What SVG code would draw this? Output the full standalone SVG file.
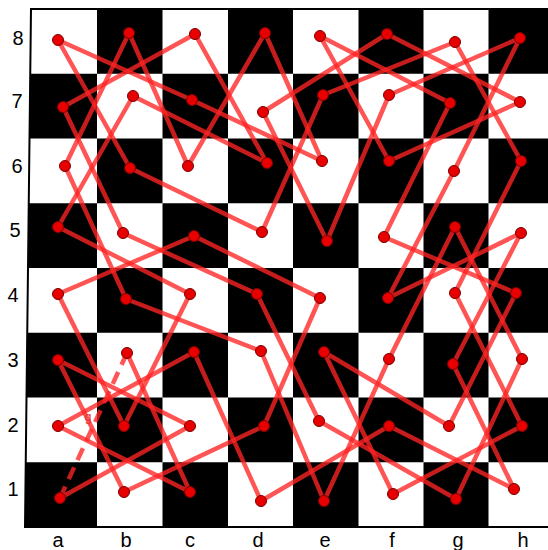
<svg xmlns="http://www.w3.org/2000/svg" width="548" height="550" viewBox="0 0 548 550">
<style>
.blk{fill:#000}
.lbl{font-family:"Liberation Sans",Arial,sans-serif;font-size:20px;fill:#000;text-anchor:middle}
.tour line{stroke:#ff2424;stroke-opacity:0.78;stroke-width:4.5;stroke-linecap:round}
.tour line.close{stroke-dasharray:13 8;stroke-linecap:butt}
.dot{fill:#e80000;stroke:#7a0000;stroke-width:1}
</style>
<rect width="548" height="550" fill="#fff"/>
<g id="board">
<polygon points="31,9 553,9 553,527 25,527" fill="#fff" stroke="#000" stroke-width="2"/>
<rect class="blk" x="97" y="9" width="65.5" height="64.75"/>
<rect class="blk" x="228" y="9" width="65" height="64.75"/>
<rect class="blk" x="358.5" y="9" width="65" height="64.75"/>
<rect class="blk" x="488.5" y="9" width="64.5" height="64.75"/>
<polygon class="blk" points="30.25,73.75 97,73.75 97,138.5 29.5,138.5"/>
<rect class="blk" x="162.5" y="73.75" width="65.5" height="64.75"/>
<rect class="blk" x="293" y="73.75" width="65.5" height="64.75"/>
<rect class="blk" x="423.5" y="73.75" width="65" height="64.75"/>
<rect class="blk" x="97" y="138.5" width="65.5" height="64.75"/>
<rect class="blk" x="228" y="138.5" width="65" height="64.75"/>
<rect class="blk" x="358.5" y="138.5" width="65" height="64.75"/>
<rect class="blk" x="488.5" y="138.5" width="64.5" height="64.75"/>
<polygon class="blk" points="28.75,203.25 97,203.25 97,268 28,268"/>
<rect class="blk" x="162.5" y="203.25" width="65.5" height="64.75"/>
<rect class="blk" x="293" y="203.25" width="65.5" height="64.75"/>
<rect class="blk" x="423.5" y="203.25" width="65" height="64.75"/>
<rect class="blk" x="97" y="268" width="65.5" height="64.75"/>
<rect class="blk" x="228" y="268" width="65" height="64.75"/>
<rect class="blk" x="358.5" y="268" width="65" height="64.75"/>
<rect class="blk" x="488.5" y="268" width="64.5" height="64.75"/>
<polygon class="blk" points="27.25,332.75 97,332.75 97,397.5 26.5,397.5"/>
<rect class="blk" x="162.5" y="332.75" width="65.5" height="64.75"/>
<rect class="blk" x="293" y="332.75" width="65.5" height="64.75"/>
<rect class="blk" x="423.5" y="332.75" width="65" height="64.75"/>
<rect class="blk" x="97" y="397.5" width="65.5" height="64.75"/>
<rect class="blk" x="228" y="397.5" width="65" height="64.75"/>
<rect class="blk" x="358.5" y="397.5" width="65" height="64.75"/>
<rect class="blk" x="488.5" y="397.5" width="64.5" height="64.75"/>
<polygon class="blk" points="25.75,462.25 97,462.25 97,527 25,527"/>
<rect class="blk" x="162.5" y="462.25" width="65.5" height="64.75"/>
<rect class="blk" x="293" y="462.25" width="65.5" height="64.75"/>
<rect class="blk" x="423.5" y="462.25" width="65" height="64.75"/>
</g>
<g id="labels">
<text class="lbl" x="18" y="45">8</text>
<text class="lbl" x="17" y="108">7</text>
<text class="lbl" x="17" y="173">6</text>
<text class="lbl" x="15" y="237">5</text>
<text class="lbl" x="13" y="302">4</text>
<text class="lbl" x="13" y="367">3</text>
<text class="lbl" x="13" y="432">2</text>
<text class="lbl" x="13" y="496">1</text>
<text class="lbl" x="58" y="547">a</text>
<text class="lbl" x="126" y="547">b</text>
<text class="lbl" x="190" y="547">c</text>
<text class="lbl" x="258" y="547">d</text>
<text class="lbl" x="325" y="547">e</text>
<text class="lbl" x="392" y="547">f</text>
<text class="lbl" x="458" y="547">g</text>
<text class="lbl" x="523" y="547">h</text>
</g>
<g id="connectors" class="tour">
<line x1="60" y1="498" x2="190" y2="426"/>
<line x1="190" y1="426" x2="58" y2="360"/>
<line x1="58" y1="360" x2="124" y2="492"/>
<line x1="124" y1="492" x2="264" y2="426"/>
<line x1="264" y1="426" x2="320" y2="298"/>
<line x1="320" y1="298" x2="194" y2="236"/>
<line x1="194" y1="236" x2="58" y2="294"/>
<line x1="58" y1="294" x2="124" y2="426"/>
<line x1="124" y1="426" x2="190" y2="294"/>
<line x1="190" y1="294" x2="58" y2="227"/>
<line x1="58" y1="227" x2="133" y2="96"/>
<line x1="133" y1="96" x2="267" y2="163"/>
<line x1="267" y1="163" x2="195" y2="34"/>
<line x1="195" y1="34" x2="63" y2="107"/>
<line x1="63" y1="107" x2="123" y2="233"/>
<line x1="123" y1="233" x2="257" y2="294"/>
<line x1="257" y1="294" x2="319" y2="421"/>
<line x1="319" y1="421" x2="456" y2="499"/>
<line x1="456" y1="499" x2="522" y2="359"/>
<line x1="522" y1="359" x2="455" y2="227"/>
<line x1="455" y1="227" x2="389" y2="359"/>
<line x1="389" y1="359" x2="324" y2="501"/>
<line x1="324" y1="501" x2="261" y2="351"/>
<line x1="261" y1="351" x2="126" y2="299"/>
<line x1="126" y1="299" x2="65" y2="166"/>
<line x1="65" y1="166" x2="129" y2="33"/>
<line x1="129" y1="33" x2="188" y2="166"/>
<line x1="188" y1="166" x2="265" y2="33"/>
<line x1="265" y1="33" x2="322" y2="161"/>
<line x1="322" y1="161" x2="192" y2="100"/>
<line x1="192" y1="100" x2="58" y2="40"/>
<line x1="58" y1="40" x2="130" y2="168"/>
<line x1="130" y1="168" x2="262" y2="232"/>
<line x1="262" y1="232" x2="323" y2="95"/>
<line x1="323" y1="95" x2="455" y2="42"/>
<line x1="455" y1="42" x2="521" y2="161"/>
<line x1="521" y1="161" x2="455" y2="293"/>
<line x1="455" y1="293" x2="522" y2="426"/>
<line x1="522" y1="426" x2="393" y2="494"/>
<line x1="393" y1="494" x2="324" y2="352"/>
<line x1="324" y1="352" x2="449" y2="426"/>
<line x1="449" y1="426" x2="516" y2="293"/>
<line x1="516" y1="293" x2="384" y2="237"/>
<line x1="384" y1="237" x2="450" y2="103"/>
<line x1="450" y1="103" x2="320" y2="36"/>
<line x1="320" y1="36" x2="389" y2="161"/>
<line x1="389" y1="161" x2="520" y2="102"/>
<line x1="520" y1="102" x2="387" y2="34"/>
<line x1="387" y1="34" x2="263" y2="112"/>
<line x1="263" y1="112" x2="327" y2="241"/>
<line x1="327" y1="241" x2="389" y2="95"/>
<line x1="389" y1="95" x2="520" y2="38"/>
<line x1="520" y1="38" x2="454" y2="171"/>
<line x1="454" y1="171" x2="388" y2="298"/>
<line x1="388" y1="298" x2="521" y2="233"/>
<line x1="521" y1="233" x2="453" y2="364"/>
<line x1="453" y1="364" x2="514" y2="489"/>
<line x1="514" y1="489" x2="389" y2="426"/>
<line x1="389" y1="426" x2="261" y2="501"/>
<line x1="261" y1="501" x2="194" y2="352"/>
<line x1="194" y1="352" x2="58" y2="426"/>
<line x1="58" y1="426" x2="190" y2="492"/>
<line x1="190" y1="492" x2="127" y2="353"/>
<line class="close" x1="127" y1="353" x2="60" y2="498"/>
</g>
<text x="88" y="421" font-family="Liberation Sans, Arial, sans-serif" font-size="12" fill="#e03030" text-anchor="middle">g</text>
<g id="nodes">
<g id="a8"><circle class="dot" cx="58" cy="40" r="5.5"/></g>
<g id="b8"><circle class="dot" cx="129" cy="33" r="5.5"/></g>
<g id="c8"><circle class="dot" cx="195" cy="34" r="5.5"/></g>
<g id="d8"><circle class="dot" cx="265" cy="33" r="5.5"/></g>
<g id="e8"><circle class="dot" cx="320" cy="36" r="5.5"/></g>
<g id="f8"><circle class="dot" cx="387" cy="34" r="5.5"/></g>
<g id="g8"><circle class="dot" cx="455" cy="42" r="5.5"/></g>
<g id="h8"><circle class="dot" cx="520" cy="38" r="5.5"/></g>
<g id="a7"><circle class="dot" cx="63" cy="107" r="5.5"/></g>
<g id="b7"><circle class="dot" cx="133" cy="96" r="5.5"/></g>
<g id="c7"><circle class="dot" cx="192" cy="100" r="5.5"/></g>
<g id="d7"><circle class="dot" cx="263" cy="112" r="5.5"/></g>
<g id="e7"><circle class="dot" cx="323" cy="95" r="5.5"/></g>
<g id="f7"><circle class="dot" cx="389" cy="95" r="5.5"/></g>
<g id="g7"><circle class="dot" cx="450" cy="103" r="5.5"/></g>
<g id="h7"><circle class="dot" cx="520" cy="102" r="5.5"/></g>
<g id="a6"><circle class="dot" cx="65" cy="166" r="5.5"/></g>
<g id="b6"><circle class="dot" cx="130" cy="168" r="5.5"/></g>
<g id="c6"><circle class="dot" cx="188" cy="166" r="5.5"/></g>
<g id="d6"><circle class="dot" cx="267" cy="163" r="5.5"/></g>
<g id="e6"><circle class="dot" cx="322" cy="161" r="5.5"/></g>
<g id="f6"><circle class="dot" cx="389" cy="161" r="5.5"/></g>
<g id="g6"><circle class="dot" cx="454" cy="171" r="5.5"/></g>
<g id="h6"><circle class="dot" cx="521" cy="161" r="5.5"/></g>
<g id="a5"><circle class="dot" cx="58" cy="227" r="5.5"/></g>
<g id="b5"><circle class="dot" cx="123" cy="233" r="5.5"/></g>
<g id="c5"><circle class="dot" cx="194" cy="236" r="5.5"/></g>
<g id="d5"><circle class="dot" cx="262" cy="232" r="5.5"/></g>
<g id="e5"><circle class="dot" cx="327" cy="241" r="5.5"/></g>
<g id="f5"><circle class="dot" cx="384" cy="237" r="5.5"/></g>
<g id="g5"><circle class="dot" cx="455" cy="227" r="5.5"/></g>
<g id="h5"><circle class="dot" cx="521" cy="233" r="5.5"/></g>
<g id="a4"><circle class="dot" cx="58" cy="294" r="5.5"/></g>
<g id="b4"><circle class="dot" cx="126" cy="299" r="5.5"/></g>
<g id="c4"><circle class="dot" cx="190" cy="294" r="5.5"/></g>
<g id="d4"><circle class="dot" cx="257" cy="294" r="5.5"/></g>
<g id="e4"><circle class="dot" cx="320" cy="298" r="5.5"/></g>
<g id="f4"><circle class="dot" cx="388" cy="298" r="5.5"/></g>
<g id="g4"><circle class="dot" cx="455" cy="293" r="5.5"/></g>
<g id="h4"><circle class="dot" cx="516" cy="293" r="5.5"/></g>
<g id="a3"><circle class="dot" cx="58" cy="360" r="5.5"/></g>
<g id="b3"><circle class="dot" cx="127" cy="353" r="5.5"/></g>
<g id="c3"><circle class="dot" cx="194" cy="352" r="5.5"/></g>
<g id="d3"><circle class="dot" cx="261" cy="351" r="5.5"/></g>
<g id="e3"><circle class="dot" cx="324" cy="352" r="5.5"/></g>
<g id="f3"><circle class="dot" cx="389" cy="359" r="5.5"/></g>
<g id="g3"><circle class="dot" cx="453" cy="364" r="5.5"/></g>
<g id="h3"><circle class="dot" cx="522" cy="359" r="5.5"/></g>
<g id="a2"><circle class="dot" cx="58" cy="426" r="5.5"/></g>
<g id="b2"><circle class="dot" cx="124" cy="426" r="5.5"/></g>
<g id="c2"><circle class="dot" cx="190" cy="426" r="5.5"/></g>
<g id="d2"><circle class="dot" cx="264" cy="426" r="5.5"/></g>
<g id="e2"><circle class="dot" cx="319" cy="421" r="5.5"/></g>
<g id="f2"><circle class="dot" cx="389" cy="426" r="5.5"/></g>
<g id="g2"><circle class="dot" cx="449" cy="426" r="5.5"/></g>
<g id="h2"><circle class="dot" cx="522" cy="426" r="5.5"/></g>
<g id="a1"><circle class="dot" cx="60" cy="498" r="5.5"/></g>
<g id="b1"><circle class="dot" cx="124" cy="492" r="5.5"/></g>
<g id="c1"><circle class="dot" cx="190" cy="492" r="5.5"/></g>
<g id="d1"><circle class="dot" cx="261" cy="501" r="5.5"/></g>
<g id="e1"><circle class="dot" cx="324" cy="501" r="5.5"/></g>
<g id="f1"><circle class="dot" cx="393" cy="494" r="5.5"/></g>
<g id="g1"><circle class="dot" cx="456" cy="499" r="5.5"/></g>
<g id="h1"><circle class="dot" cx="514" cy="489" r="5.5"/></g>
</g>
</svg>
